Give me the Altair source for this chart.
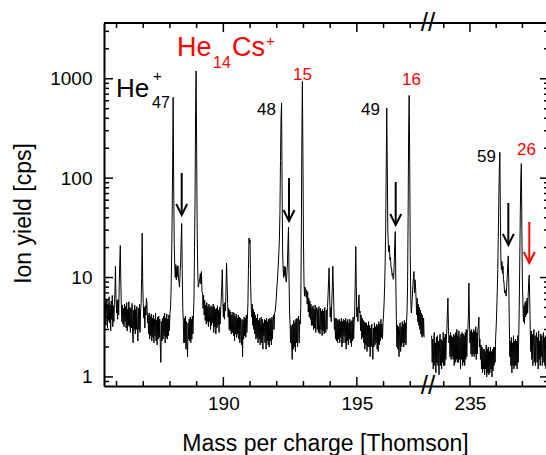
import altair as alt
import pandas as pd

# ---------------- data ----------------
LEFT_START = 185.54      # first sampled mass of the left segment
RIGHT_START = 233.54     # first sampled mass of the right segment
STEP = 0.02              # sampling step [Thomson]

LEFT_YIELD = [
    5.6, 3.6, 6.2, 3.3, 5.0, 6.0, 3.1, 5.4, 3.7, 6.4,
    3.5, 5.3, 2.9, 5.8, 3.8, 6.6, 3.2, 5.2, 3.6, 5.6,
    7.0, 13.0, 6.2, 4.4, 5.9, 3.8, 6.0, 4.2, 8.5, 14.0,
    21.0, 9.0, 5.2, 3.6, 5.3, 3.4, 4.9, 3.2, 5.4, 3.6,
    5.1, 3.1, 5.6, 2.9, 4.8, 3.3, 5.7, 3.2, 5.0, 2.8,
    4.9, 3.1, 5.5, 2.9, 2.2, 4.7, 3.0, 5.3, 2.7, 4.8,
    3.0, 5.1, 3.2, 2.3, 4.9, 3.0, 5.4, 2.8, 4.6, 5.5,
    10.0, 28.0, 9.0, 5.5, 3.9, 5.0, 3.1, 5.2, 4.2, 6.2,
    5.4, 3.5, 4.2, 2.7, 4.4, 2.4, 4.1, 2.6, 4.3, 2.3,
    3.9, 2.5, 4.2, 2.2, 3.8, 2.6, 4.4, 2.3, 3.7, 2.1,
    4.0, 2.4, 4.1, 2.5, 3.8, 2.0, 1.4, 3.6, 2.3, 3.9,
    2.4, 4.1, 2.6, 4.4, 2.2, 3.9, 2.5, 4.3, 2.4, 3.8,
    2.6, 4.2, 2.9, 4.4, 4.8, 7.0, 14.0, 35.0, 130.0, 650.0,
    90.0, 22.0, 13.0, 10.0, 13.5, 9.5, 12.8, 10.2, 13.2, 9.6,
    9.0, 8.0, 11.5, 14.0, 24.0, 35.0, 12.0, 5.0, 3.6, 2.2,
    3.9, 2.2, 4.1, 1.9, 3.6, 2.2, 1.6, 3.5, 2.4, 3.8,
    2.3, 4.0, 2.2, 3.8, 2.4, 4.1, 2.7, 4.2, 6.0, 20.0,
    60.0, 500.0, 1200.0, 180.0, 30.0, 12.0, 8.0, 8.5, 9.0, 10.0,
    11.0, 8.6, 11.5, 7.2, 7.0, 4.9, 6.6, 4.2, 5.9, 3.7,
    5.3, 3.4, 5.6, 3.6, 5.1, 3.2, 5.4, 3.6, 5.0, 3.0,
    5.2, 3.3, 5.0, 3.5, 5.4, 2.8, 5.1, 3.2, 4.8, 2.7,
    4.9, 3.1, 5.2, 3.3, 4.7, 2.8, 5.0, 3.4, 4.8, 6.0,
    8.0, 12.0, 6.5, 4.0, 5.4, 3.8, 5.6, 4.6, 8.0, 14.0,
    9.0, 5.5, 4.0, 4.9, 3.0, 4.7, 2.9, 4.5, 2.7, 4.2,
    2.8, 4.5, 2.6, 4.4, 2.3, 4.1, 2.7, 4.3, 2.5, 3.9,
    2.7, 4.2, 2.4, 4.0, 2.2, 3.9, 2.6, 2.1, 3.8, 1.6,
    3.7, 2.4, 4.0, 2.6, 3.9, 2.5, 4.2, 2.8, 3.8, 5.5,
    12.0, 25.0, 22.0, 24.0, 9.0, 5.6, 4.0, 5.4, 3.3, 4.8,
    3.0, 4.5, 2.7, 4.2, 2.4, 3.9, 2.5, 4.3, 2.2, 3.7,
    2.4, 3.9, 2.1, 3.6, 4.0, 2.2, 3.8, 1.9, 3.5, 2.6,
    3.8, 2.2, 3.7, 1.9, 3.9, 2.3, 3.6, 2.1, 3.8, 2.0,
    3.9, 2.3, 3.8, 2.1, 4.0, 2.4, 3.7, 4.2, 3.0, 4.4,
    4.5, 5.2, 6.0, 7.5, 9.0, 11.0, 14.0, 18.0, 25.0, 45.0,
    150.0, 400.0, 571.0, 90.0, 18.0, 12.0, 10.0, 13.0, 10.5, 12.8,
    9.5, 9.0, 11.0, 14.0, 22.0, 32.0, 10.0, 4.5, 3.3, 2.2,
    3.3, 2.1, 1.5, 3.4, 1.9, 3.7, 2.0, 3.5, 1.8, 3.8,
    2.2, 3.9, 2.0, 3.6, 4.1, 2.2, 3.7, 3.4, 5.0, 25.0,
    250.0, 940.0, 180.0, 25.0, 9.0, 6.5, 8.0, 7.2, 6.3, 7.5,
    5.4, 7.2, 4.5, 6.2, 4.0, 5.8, 3.8, 5.4, 3.3, 5.0,
    3.3, 5.2, 3.0, 4.8, 3.1, 5.3, 2.8, 4.6, 5.0, 3.0,
    4.8, 2.8, 5.1, 3.1, 2.7, 4.9, 3.0, 4.6, 2.6, 4.8,
    2.9, 4.6, 2.7, 5.0, 3.0, 2.8, 4.7, 3.0, 5.0, 6.5,
    9.0, 12.5, 7.0, 4.0, 5.0, 3.6, 5.5, 8.0, 13.0, 8.0,
    5.0, 3.0, 3.9, 2.4, 3.9, 2.3, 3.8, 2.2, 3.7, 2.4,
    3.8, 2.2, 3.6, 2.5, 3.9, 2.0, 3.6, 2.2, 3.8, 2.6,
    3.7, 2.2, 3.9, 1.9, 3.6, 2.3, 3.8, 2.1, 3.5, 2.4,
    3.8, 2.2, 3.6, 2.0, 3.7, 2.3, 4.0, 2.4, 3.6, 4.5,
    9.0, 20.5, 8.0, 4.0, 5.0, 3.6, 5.6, 6.7, 4.4, 4.6,
    2.9, 4.2, 2.4, 3.9, 2.5, 3.7, 2.2, 3.6, 1.9, 3.5,
    2.1, 3.5, 1.8, 3.3, 2.0, 3.6, 2.0, 3.3, 1.6, 3.1,
    2.0, 3.4, 2.2, 1.5, 3.1, 2.0, 3.5, 2.1, 3.2, 2.2,
    3.4, 1.9, 3.3, 1.8, 3.6, 2.1, 3.4, 2.3, 3.8, 2.5,
    3.4, 2.4, 3.5, 4.2, 5.5, 8.0, 14.0, 30.0, 120.0, 508.0,
    130.0, 30.0, 21.0, 18.0, 21.0, 15.0, 16.0, 12.5, 12.5, 10.5,
    11.0, 9.6, 10.0, 14.0, 22.0, 29.0, 9.0, 3.8, 2.0, 3.3,
    1.9, 3.2, 1.6, 3.0, 3.5, 1.8, 3.2, 2.0, 3.6, 2.2,
    3.4, 2.0, 3.7, 2.2, 3.5, 2.1, 3.5, 4.5, 8.0, 40.0,
    300.0, 680.0, 140.0, 18.0, 6.0, 4.4, 5.2, 6.5, 8.5, 10.0,
    11.5, 7.0, 9.5, 8.0, 6.0, 4.2, 6.2, 3.6, 5.4, 3.3,
    5.0, 3.0, 4.7, 2.7, 4.4, 2.5, 4.2, 2.6, 3.9, 2.5,
]

RIGHT_YIELD = [
    2.6, 1.4, 2.4, 1.2, 2.3, 2.8, 1.3, 2.2, 1.1, 2.5,
    1.4, 2.6, 1.3, 2.3, 1.05, 2.2, 2.7, 1.3, 2.4, 1.2,
    2.3, 1.4, 2.8, 1.3, 2.5, 1.3, 2.7, 1.5, 2.4, 3.0,
    4.5, 6.2, 3.2, 2.2, 2.6, 1.6, 2.8, 1.5, 2.6, 1.6,
    2.5, 1.5, 2.7, 1.3, 2.6, 1.4, 2.8, 1.5, 3.0, 1.4,
    2.6, 1.4, 2.9, 1.5, 2.5, 1.2, 2.7, 1.5, 2.8, 1.3,
    2.7, 1.4, 2.6, 1.3, 2.8, 1.5, 3.0, 1.6, 2.8, 3.0,
    4.2, 8.8, 4.0, 2.2, 2.9, 1.7, 3.0, 1.6, 2.8, 1.7,
    3.0, 1.6, 2.9, 1.7, 3.2, 1.5, 2.8, 1.7, 3.0, 3.2,
    4.0, 2.0, 2.4, 1.5, 2.1, 1.2, 2.0, 1.1, 1.9, 1.2,
    1.9, 1.05, 1.8, 1.2, 2.1, 1.0, 1.9, 1.1, 2.0, 1.05,
    1.8, 1.1, 2.0, 1.2, 1.8, 1.0, 1.9, 1.15, 2.0, 1.3,
    2.0, 1.4, 2.5, 3.2, 4.5, 7.0, 12.0, 25.0, 60.0, 120.0,
    182.0, 45.0, 15.0, 12.0, 14.5, 11.0, 13.0, 9.5, 8.8, 7.0,
    7.5, 7.0, 6.5, 8.0, 10.0, 13.0, 16.5, 9.0, 3.5, 1.6,
    2.3, 1.3, 2.5, 1.1, 2.2, 1.3, 2.6, 1.2, 2.3, 1.3,
    2.4, 1.3, 2.3, 1.2, 2.6, 1.4, 2.5, 5.0, 15.0, 45.0,
    100.0, 140.0, 30.0, 9.0, 5.5, 3.6, 5.2, 3.4, 5.6, 4.0,
    5.8, 4.2, 6.2, 4.4, 6.5, 9.0, 10.6, 6.0, 3.0, 1.8,
    2.9, 1.5, 2.7, 1.3, 2.5, 3.0, 1.4, 2.6, 1.3, 2.4,
    2.8, 1.4, 2.5, 1.2, 2.9, 1.5, 2.3, 1.3, 2.7, 1.6,
    2.6, 1.3, 2.2, 2.8, 1.4, 2.5, 1.3, 2.6, 1.2, 2.3,
]

# axis break: left segment ends / right segment starts
X_DOMAIN = [185.53, 197.665, 233.40, 237.90]
Y_DOMAIN = [0.81, 3640]

X_MAJOR = [190, 195, 235]
X_MINOR = [186, 187, 188, 189, 191, 192, 193, 194, 196, 197, 234, 236, 237]
Y_MAJOR = [1, 10, 100, 1000]
Y_MINOR = [0.9, 2, 3, 4, 5, 6, 7, 8, 9, 20, 30, 40, 50, 60, 70, 80, 90,
           200, 300, 400, 500, 600, 700, 800, 900, 2000, 3000]

LABEL_TEXT = ["He", "+", "47", "He", "14", "Cs", "+", "48", "15", "49", "16", "59", "26"]
LABEL_MASS = [185.979, 187.365, 187.328, 188.264, 189.612, 190.324, 191.597,
              191.260, 192.609, 195.155, 196.691, 235.269, 236.794]
LABEL_YIELD = [655.4, 949.5, 507.9, 1694, 1283, 1694, 2136,
               431.9, 971.6, 431.9, 865.3, 145.3, 171.0]
LABEL_SIZE = [26, 15, 16, 27, 16, 27, 15, 17, 17, 17, 17, 17, 17]
LABEL_COLOR = ["black", "black", "black", "#ff0000", "#ff0000", "#ff0000", "#ff0000",
               "black", "#ff0000", "black", "#ff0000", "black", "#ff0000"]

ARROW_MASS = [188.44, 192.459, 196.455, 236.463, 237.263]
ARROW_TAIL = [112.6, 100.3, 91.5, 56.2, 36.2]
ARROW_TIP = [42.6, 37.1, 33.8, 21.3, 14.0]
ARROW_COLOR = ["black", "black", "black", "black", "#ff0000"]

# ---------------- tables ----------------
spec_rows = []
for i, v in enumerate(LEFT_YIELD):
    spec_rows.append({"mass": round(LEFT_START + STEP * i, 3), "yield": v, "seg": "left"})
for i, v in enumerate(RIGHT_YIELD):
    spec_rows.append({"mass": round(RIGHT_START + STEP * i, 3), "yield": v, "seg": "right"})
spectrum = pd.DataFrame(spec_rows)

xmaj = pd.DataFrame({"mass": X_MAJOR})
xmin = pd.DataFrame({"mass": X_MINOR})
ymaj = pd.DataFrame({"yield": Y_MAJOR})
ymin = pd.DataFrame({"yield": Y_MINOR})
labels = pd.DataFrame({"mass": LABEL_MASS, "yield": LABEL_YIELD, "txt": LABEL_TEXT,
                       "fs": LABEL_SIZE, "col": LABEL_COLOR})
arrows = pd.DataFrame({"mass": ARROW_MASS, "yield": ARROW_TIP, "tail": ARROW_TAIL,
                       "col": ARROW_COLOR})
breaks = pd.DataFrame({"mass": [X_DOMAIN[1], X_DOMAIN[1]], "yield": [Y_DOMAIN[1], Y_DOMAIN[0]]})

W, H = 442, 363
FONT = "Liberation Sans"

XS = alt.Scale(domain=X_DOMAIN, range=[0, 324, 324, W], zero=False, nice=False)
YS = alt.Scale(type="log", domain=Y_DOMAIN, nice=False)

XA = alt.Axis(values=X_MAJOR, format="d", ticks=False, tickSize=0, grid=False,
              domain=True, domainColor="black", domainWidth=2,
              labelFont=FONT, labelFontSize=19, labelColor="black", labelPadding=8,
              labelFlush=False, labelOverlap=False,
              title="Mass per charge [Thomson]", titleFont=FONT, titleFontSize=23,
              titleFontWeight="normal", titleColor="black",
              titleBaseline="alphabetic", titleY=64)
YA = alt.Axis(values=Y_MAJOR, format="d", ticks=False, tickSize=0, grid=False,
              domain=True, domainColor="black", domainWidth=2,
              labelFont=FONT, labelFontSize=19, labelColor="black", labelPadding=12,
              labelFlush=False, labelOverlap=False,
              title="Ion yield [cps]", titleFont=FONT, titleFontSize=23,
              titleFontWeight="normal", titleColor="black", titleAngle=270,
              titleBaseline="alphabetic", titleAlign="center", titleX=-73.5, titleY=190)

X = lambda: alt.X("mass:Q", scale=XS, axis=XA)
Y = lambda: alt.Y("yield:Q", scale=YS, axis=YA)

line = alt.Chart(spectrum).mark_line(color="black", strokeWidth=1.0, clip=True).encode(
    x=X(), y=Y(), detail="seg:N"
)

def xticks(df, y0, y1):
    return alt.Chart(df).mark_rule(color="black", strokeWidth=1.5).encode(
        x=X(), y=alt.value(y0), y2=alt.value(y1))

def yticks(df, x0, x1):
    return alt.Chart(df).mark_rule(color="black", strokeWidth=1.5).encode(
        y=Y(), x=alt.value(x0), x2=alt.value(x1))

tick_layers = [
    xticks(xmaj, H, H - 9), xticks(xmin, H, H - 5),
    xticks(xmaj, 0, 9), xticks(xmin, 0, 5),
    yticks(ymaj, 0, 9), yticks(ymin, 0, 5),
    yticks(ymaj, W, W - 6), yticks(ymin, W, W - 2),
]

top_line = alt.Chart(xmaj).mark_rule(color="black", strokeWidth=2).encode(
    x=alt.value(0), x2=alt.value(W), y=alt.value(0))

brk = alt.Chart(breaks).mark_text(text="//", font=FONT, fontSize=26, baseline="middle",
                                  align="center", color="black").encode(x=X(), y=Y())

texts = alt.Chart(labels).mark_text(font=FONT, align="left", baseline="alphabetic").encode(
    x=X(), y=Y(), text="txt:N",
    size=alt.Size("fs:Q", scale=None, legend=None),
    color=alt.Color("col:N", scale=None, legend=None),
)

shafts = alt.Chart(arrows).mark_rule(strokeWidth=2).encode(
    x=X(), y=Y(), y2="tail:Q", color=alt.Color("col:N", scale=None, legend=None))

heads = alt.Chart(arrows).mark_point(shape="M-1,-2L0,0L1,-2", filled=False, size=121,
                                     strokeWidth=2, opacity=1).encode(
    x=X(), y=Y(), color=alt.Color("col:N", scale=None, legend=None))

chart = alt.layer(line, *tick_layers, top_line, brk, texts, shafts, heads).properties(
    width=W, height=H,
    autosize=alt.AutoSizeParams(type="none"),
    padding={"left": 104, "top": 23, "right": 0, "bottom": 69},
    background="white",
).configure_view(stroke=None)

chart.save("out.html", embed_options={"renderer": "svg", "actions": False})
